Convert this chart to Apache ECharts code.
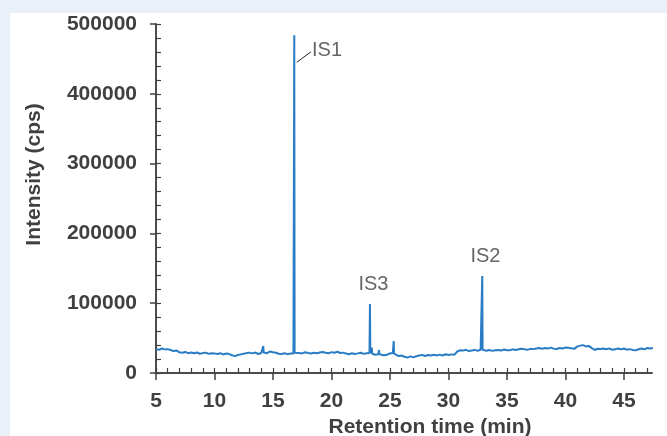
<!DOCTYPE html>
<html>
<head>
<meta charset="utf-8">
<script src="https://cdn.jsdelivr.net/npm/echarts@6/dist/echarts.min.js"></script>
<style>
  html, body { margin: 0; padding: 0; background: #e9f0f8; }
  #panel { position: absolute; left: 10px; top: 13px; width: 657px; height: 423px; background: #ffffff; }
  #chart { position: absolute; left: 0; top: 0; width: 667px; height: 436px; }
</style>
</head>
<body>
<div id="panel"></div>
<div id="chart"></div>
<script>
'use strict';

// baseline trace, one reading every 0.25 min starting at 5.0 min (cps)
const baseStart = 5.0
const baseStep = 0.25
const baseline = [
    34500,
    33200, 35100, 33800, 34200,   // 5-6
    32900, 31400, 32300, 29600,   // 6-7
    29100, 30200, 28400, 29300,
    28200, 29400, 27600, 28500,
    29200, 27400, 28300, 28100,   // 9-10
    27300, 28400, 26600, 28000,
    27100, 25400, 24200, 25800,
    26700, 27600, 28500, 29200,
    28100, 29300, 27200, 28600,
    30100, 28400, 30900, 29800,   // 14-15
    28900, 27600, 27100, 28200,
    27000, 27900, 28100, 29300,
    28600, 28100, 29700, 28800,
    28000, 29100, 28300, 29400,
    30200, 29000, 28200, 29900,   // 19-20
    29100, 30400, 28600, 29200,
    27800, 26900, 28300, 27300,
    28100, 29000, 27400, 28200,
    28600, 27100, 26200, 26800,
    27400, 25300, 26100, 28000,   // 24-25
    28800, 26200, 24300, 25100,
    23200, 22100, 23800, 22400,
    24100, 25200, 25900, 24300,
    25800, 25000, 26100, 25200,
    26300, 25100, 26800, 25900,   // 29-30
    26700, 26000, 30800, 32600,
    32100, 33200, 31400, 32300,
    33100, 32000, 33200, 32600,
    31800, 32900, 31700, 32600,
    32800, 32100, 33600, 32700,   // 34-35
    32600, 33900, 33000, 34100,
    34700, 33900, 33200, 34600,
    34200, 35100, 35700, 34800,
    35800, 35100, 36400, 34900,
    34300, 35800, 35000, 36500,   // 39-40
    36100, 35400, 34600, 37800,
    39200, 39900, 38100, 38800,
    35600, 33000, 34800, 34300,
    35100, 34000, 35300, 33200,
    34100, 35000, 33900, 35100,   // 44-45
    33400, 34200, 33100, 32400,
    34000, 35100, 33800, 35900,
    35000, 35800
]

// sharp peaks [time (min), intensity (cps)], with their foot points
const peaks = [
    [14.14, 29000], [14.17, 38700], [14.20, 29500],
    [16.79, 28500], [16.82, 484000], [16.85, 29000],
    [23.26, 28600], [23.29, 98900], [23.32, 28400],
    [23.42, 28000], [23.45, 36500], [23.48, 27500],
    [24.03, 27000], [24.06, 33000], [24.09, 26800],
    [25.29, 28500], [25.32, 45800], [25.35, 27800],
    [32.86, 33000], [32.89, 139000], [32.92, 33200]
]

// peak labels [time, intensity, text]
const peakLabels = [
    [19.62, 462700, 'IS1'],
    [23.59, 126500, 'IS3'],
    [33.16, 166600, 'IS2']
]
// leader line from the IS1 peak to its label
const leader = [[17.03, 445100], [18.25, 460300]]

const xMajor = [5, 10, 15, 20, 25, 30, 35, 40, 45]
const xMinor = [5, 6, 7, 8, 9, 10, 11, 12, 13, 14, 15, 16, 17, 18, 19, 20, 21, 22, 23, 24, 25, 26,
    27, 28, 29, 30, 31, 32, 33, 34, 35, 36, 37, 38, 39, 40, 41, 42, 43, 44, 45, 46, 47]
const yMajor = [0, 100000, 200000, 300000, 400000, 500000]

const trace = baseline.map((v, i) => [baseStart + i * baseStep, v])
    .concat(peaks)
    .sort((a, b) => a[0] - b[0])

const ink = '#404040'
const font = 'Liberation Sans, Arial, sans-serif'

const chart = echarts.init(document.getElementById('chart'))

const option = {
    animation: false,
    grid: { left: 156, right: 15, top: 24, bottom: 63, containLabel: false, outerBoundsMode: 'none' },
    xAxis: [{
        type: 'value',
        min: 5,
        max: 47.4,
        position: 'bottom',
        name: 'Retention time (min)',
        nameLocation: 'middle',
        nameGap: 36,
        nameTextStyle: { color: ink, fontSize: 21, fontWeight: 'bold', fontFamily: font, padding: [0, 0, 0, 52] },
        splitLine: { show: false },
        axisLine: { lineStyle: { color: ink, width: 1.5 } },
        axisTick: { customValues: xMajor, inside: false, length: 7, lineStyle: { color: ink, width: 1.5 } },
        axisLabel: { customValues: xMajor, margin: 18, color: ink, fontSize: 21, fontWeight: 'bold', fontFamily: font }
    }, {
        type: 'value',
        min: 5,
        max: 47.4,
        position: 'bottom',
        splitLine: { show: false },
        axisLine: { lineStyle: { color: ink, width: 1.5 } },
        axisTick: { customValues: xMinor, inside: true, length: 5, lineStyle: { color: ink, width: 1.2 } },
        axisLabel: { show: false }
    }],
    yAxis: [{
        type: 'value',
        min: 0,
        max: 500000,
        position: 'left',
        name: 'Intensity (cps)',
        nameLocation: 'middle',
        nameGap: 111,
        nameTextStyle: { color: ink, fontSize: 21, fontWeight: 'bold', fontFamily: font, padding: [0, 0, 0, 48] },
        splitLine: { show: false },
        axisLine: { show: true, lineStyle: { color: ink, width: 1.5 } },
        axisTick: { show: true, customValues: yMajor, inside: false, length: 6, lineStyle: { color: ink, width: 1.5 } },
        axisLabel: {
            customValues: yMajor, margin: 19, color: ink, fontSize: 21, fontWeight: 'bold', fontFamily: font,
            formatter: v => String(v)
        }
    }, {
        type: 'value',
        min: 0,
        max: 500000,
        interval: 20000,
        position: 'left',
        splitLine: { show: false },
        axisLine: { show: true, lineStyle: { color: ink, width: 1.5 } },
        axisTick: { show: true, inside: true, length: 5, lineStyle: { color: ink, width: 1.2 } },
        axisLabel: { show: false }
    }],
    series: [{
        name: 'trace',
        type: 'line',
        data: trace,
        symbol: 'none',
        lineStyle: { color: '#2a7cc4', width: 2 },
        z: 3
    }, {
        name: 'leader',
        type: 'line',
        data: leader,
        symbol: 'none',
        lineStyle: { color: '#222222', width: 1 },
        z: 4
    }, {
        name: 'labels',
        type: 'scatter',
        data: peakLabels,
        symbolSize: 0,
        label: {
            show: true,
            position: 'inside',
            formatter: p => p.data[2],
            color: ink,
            fontSize: 20,
            fontFamily: font
        },
        z: 5
    }]
}

chart.setOption(option)
</script>
</body>
</html>
